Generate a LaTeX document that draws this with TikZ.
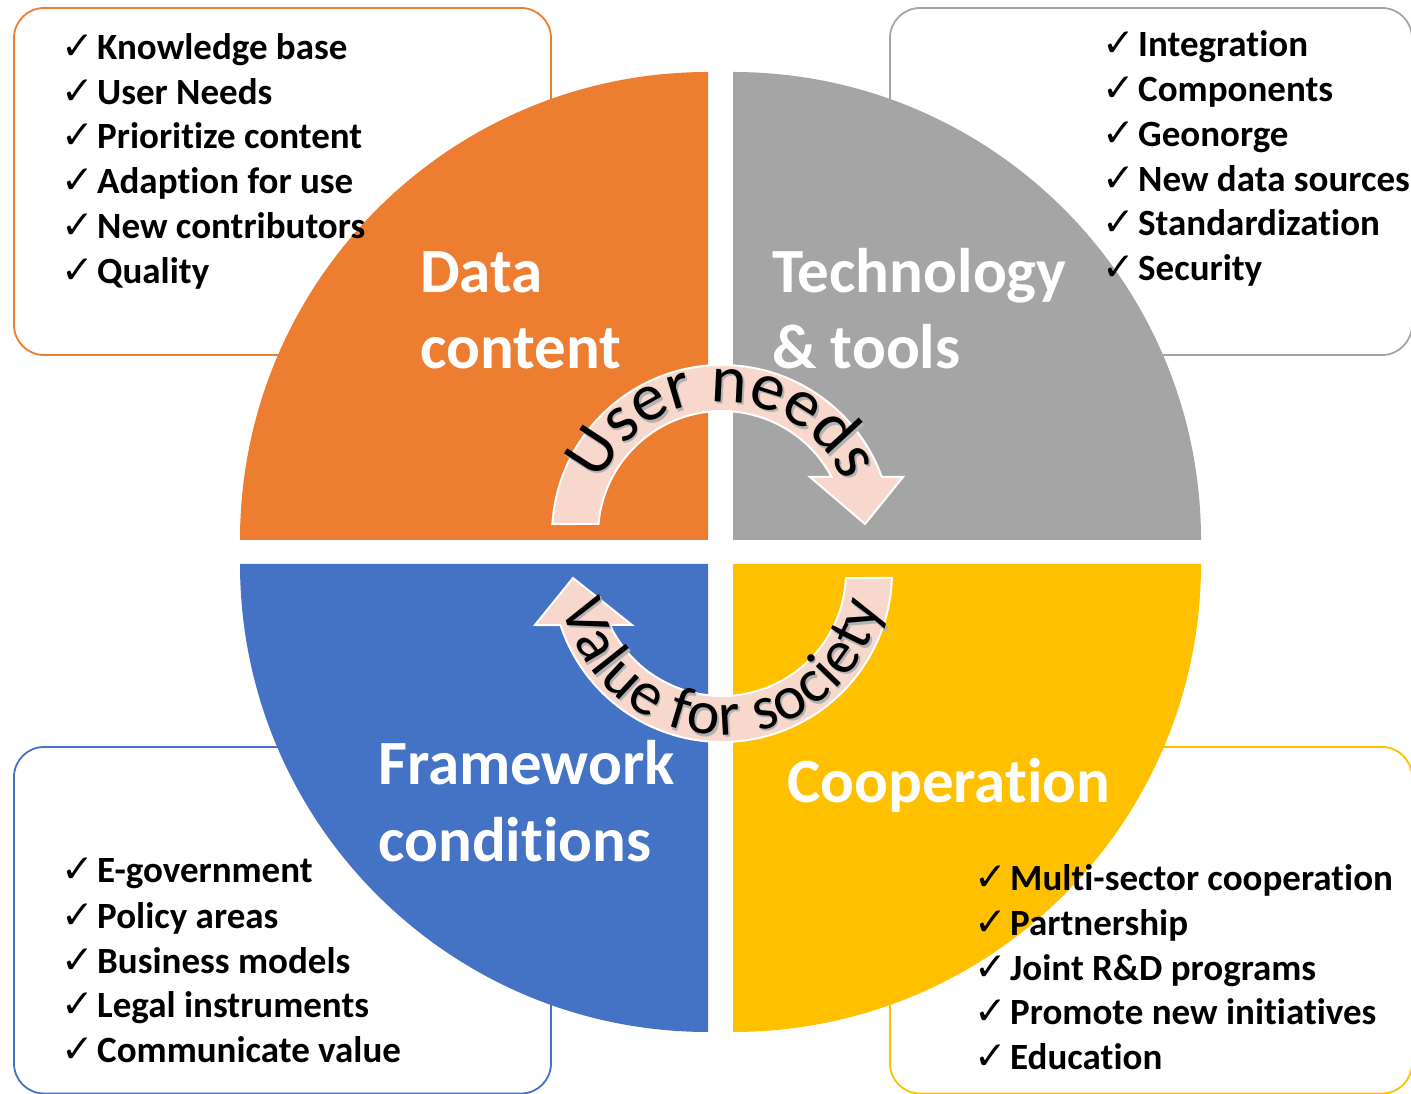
\documentclass[tikz,border=0pt]{standalone}
\usepackage{fontspec}
\setmainfont{Carlito}[Ligatures={NoCommon}]
\newfontfamily\chkfont{DejaVu Sans}
\usetikzlibrary{decorations.text,calc}
\definecolor{qorange}{HTML}{ED7D31}
\definecolor{qgray}{HTML}{A5A5A5}
\definecolor{qblue}{HTML}{4472C4}
\definecolor{qyellow}{HTML}{FFC000}
\definecolor{arrowfill}{RGB}{248,215,204}
\newcommand{\chkitem}[1]{\makebox[35pt][l]{\hspace*{-1pt}\chkfont\fontsize{39}{39}\selectfont ✓}#1}
\begin{document}
\begin{tikzpicture}[x=1pt,y=1pt,
  listbox/.style={draw, line width=1.8pt, rounded corners=30pt},
  bigtxt/.style={font=\fontsize{63}{76}\selectfont\bfseries, text=white, anchor=base west, inner sep=0},
  item/.style={font=\fontsize{37}{37}\selectfont\bfseries, anchor=base west, inner sep=0},
  blockarrow/.style={fill=arrowfill, draw=white, line width=2pt, line join=miter},
  ]
\useasboundingbox (0,0) rectangle (1411,1093);
% boxes
\draw[listbox, qorange] (14,738) rectangle (551,1085);
\draw[listbox, qgray] (890,738) rectangle (1412,1085);
\draw[listbox, qblue] (14,-0.5) rectangle (551,346);
\draw[listbox, qyellow] (890,-0.5) rectangle (1412,346);
% quadrants
\fill[qorange] (708,553) -- (240,553) arc[start angle=180,end angle=90,radius=468] -- cycle;
\fill[qgray] (733,553) -- (733,1021) arc[start angle=90,end angle=0,radius=468] -- cycle;
\fill[qblue] (708,529) -- (708,61) arc[start angle=270,end angle=180,radius=468] -- cycle;
\fill[qyellow] (733,529) -- (1201,529) arc[start angle=0,end angle=-90,radius=468] -- cycle;
% centres of arrows
\coordinate (c1) at (722,558);
\coordinate (c2) at (722,521);
% user needs arrow
\draw[blockarrow] ($(c1)+(176.3:170)$) arc[start angle=176.3,end angle=19.95,radius=170]
  -- (903,616) -- (865,569) -- (810,616) -- ($(c1)+(27.9:124)$)
  arc[start angle=27.9,end angle=174.9,radius=124] -- cycle;
% value for society arrow
\draw[blockarrow] ($(c2)+(-2:170)$) arc[start angle=-2,end angle=-161.8,radius=170]
  -- (535,468) -- (573,515) -- (632,468) -- ($(c2)+(-154.7:124)$)
  arc[start angle=-154.7,end angle=-2.8,radius=124] -- cycle;
% arc texts (shadow, then text)
\path[decorate, decoration={text along path, text color=black!30, text align=center,
  text={|\normalfont\fontsize{68}{68}\selectfont|User needs}}]
  ($(c1)+(1.5,-2.5)+(175:133)$) arc[start angle=175,end angle=5,radius=133];
\path[decorate, decoration={text along path, text color=black, text align=center,
  text={|\normalfont\fontsize{68}{68}\selectfont|User needs}}]
  ($(c1)+(175:133)$) arc[start angle=175,end angle=5,radius=133];
\path[decorate, decoration={text along path, text color=black!30, text align=fit to path,
  text={|\normalfont\fontsize{62}{62}\selectfont|Value for society}}]
  ($(c2)+(1.5,-2.5)+(192:163)$) arc[start angle=192,end angle=348,radius=163];
\path[decorate, decoration={text along path, text color=black, text align=fit to path,
  text={|\normalfont\fontsize{62}{62}\selectfont|Value for society}}]
  ($(c2)+(192:163)$) arc[start angle=192,end angle=348,radius=163];
% big labels
\node[bigtxt] (dc1) at (420,800) {Data};
\node[bigtxt] (dc2) at (420,724) {content};
\node[bigtxt] (tt1) at (772,800) {Technology};
\node[bigtxt] (tt2) at (772,724) {\& tools};
\node[bigtxt] (fc1) at (378,308) {Framework};
\node[bigtxt] (fc2) at (378,231) {conditions};
\node[bigtxt] (co1) at (787,290) {Cooperation};
% lists
\node[item] (tl1) at (62,1033) {\chkitem{Knowledge base}};
\node[item] (tl2) at (62,988) {\chkitem{User Needs}};
\node[item] (tl3) at (62,944) {\chkitem{Prioritize content}};
\node[item] (tl4) at (62,899) {\chkitem{Adaption for use}};
\node[item] (tl5) at (62,854) {\chkitem{New contributors}};
\node[item] (tl6) at (62,809) {\chkitem{Quality}};
\node[item] (tr1) at (1103,1036) {\chkitem{Integration}};
\node[item] (tr2) at (1103,991) {\chkitem{Components}};
\node[item] (tr3) at (1103,946) {\chkitem{Geonorge}};
\node[item] (tr4) at (1103,901) {\chkitem{New data sources}};
\node[item] (tr5) at (1103,857) {\chkitem{Standardization}};
\node[item] (tr6) at (1103,812) {\chkitem{Security}};
\node[item] (bl1) at (62,210) {\chkitem{E-government}};
\node[item] (bl2) at (62,165) {\chkitem{Policy areas}};
\node[item] (bl3) at (62,120) {\chkitem{Business models}};
\node[item] (bl4) at (62,76) {\chkitem{Legal instruments}};
\node[item] (bl5) at (62,31) {\chkitem{Communicate value}};
\node[item] (br1) at (975,203) {\chkitem{Multi-sector cooperation}};
\node[item] (br2) at (975,158) {\chkitem{Partnership}};
\node[item] (br3) at (975,113) {\chkitem{Joint R\&D programs}};
\node[item] (br4) at (975,69) {\chkitem{Promote new initiatives}};
\node[item] (br5) at (975,24) {\chkitem{Education}};
\end{tikzpicture}
\end{document}
